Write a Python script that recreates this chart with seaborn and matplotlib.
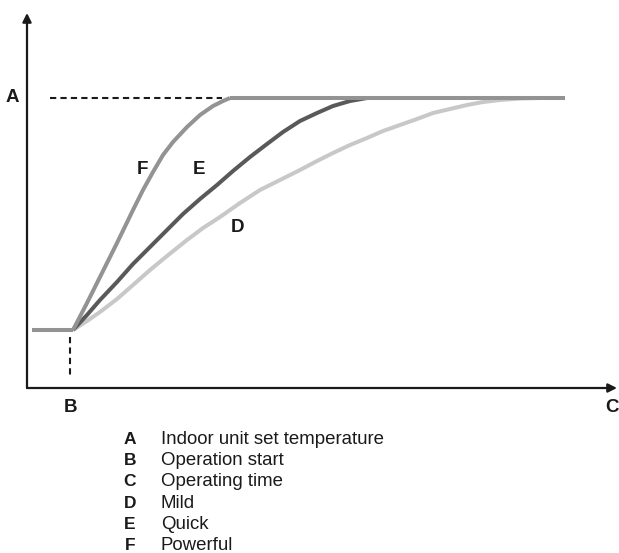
import numpy as np
import pandas as pd
import matplotlib
matplotlib.use("Agg")
import matplotlib.pyplot as plt
import seaborn as sns

# -------------------------------
# Curve data (time, temperature)
# -------------------------------

temp_set = 290

base_t = [5, 46]
base_temp = [58, 58]

powerful_t = [46, 60, 73, 90, 106, 116, 126, 136, 146, 160, 173, 186, 196, 203]
powerful_temp = [58, 85, 111, 145, 178, 198, 216, 233, 246, 261, 273, 282, 287, 290]

quick_t = [46, 60, 73, 90, 106, 123, 140, 156, 173, 190, 206, 223, 240, 256, 273,
           290, 306, 323, 340]
quick_temp = [58, 73, 88, 106, 124, 141, 158, 174, 189, 203, 217, 231, 244, 256, 267,
              275, 282, 287, 290]

mild_t = [46, 60, 73, 90, 106, 123, 140, 160, 176, 193, 213, 233, 253, 273, 290, 306,
          323, 340, 356, 373, 390, 406, 423, 440, 456, 473, 493, 513]
mild_temp = [58, 67, 76, 89, 103, 118, 132, 148, 160, 171, 185, 198, 208, 218, 227, 235,
             243, 250, 257, 263, 269, 275, 279, 283, 286, 288, 289.5, 290]

top_t = [203, 538]
top_temp = [290, 290]

legend_keys = ["A", "B", "C", "D", "E", "F"]
legend_text = ["Indoor unit set temperature", "Operation start", "Operating time",
               "Mild", "Quick", "Powerful"]

# -------------------------------
# Figure
# -------------------------------

sns.set_theme(style="white")
plt.rcParams['font.family'] = ['Liberation Sans', 'DejaVu Sans']

W, H = 619, 553
fig = plt.figure(figsize=(W / 100, H / 100), dpi=100)
ax = fig.add_axes([27 / W, (H - 388) / H, 590 / W, 375 / H])
ax.set_xlim(0, 590)
ax.set_ylim(0, 375)
ax.axis("off")

c_pow = "#939393"
c_quick = "#595959"
c_mild = "#c8c8c8"
lw = 2.9

sns.lineplot(x=mild_t, y=mild_temp, sort=False, color=c_mild, lw=lw, ax=ax)
sns.lineplot(x=quick_t, y=quick_temp, sort=False, color=c_quick, lw=lw, ax=ax)
sns.lineplot(x=powerful_t, y=powerful_temp, sort=False, color=c_pow, lw=lw, ax=ax)
sns.lineplot(x=base_t, y=base_temp, sort=False, color=c_pow, lw=lw, ax=ax)
sns.lineplot(x=top_t, y=top_temp, sort=False, color=c_pow, lw=lw, ax=ax)
for line in ax.lines:
    line.set_solid_capstyle("butt")
    line.set_solid_joinstyle("round")

# dashed guides
ax.plot([23, 195], [temp_set, temp_set], color="#1a1a1a", lw=1.5, ls=(0, (3, 2)))
ax.plot([43, 43], [51, 13], color="#1a1a1a", lw=1.5, ls=(0, (3, 2)))

# axis arrows
arrow = dict(arrowstyle="-|>", lw=1.6, color="#1a1a1a", mutation_scale=13,
             shrinkA=0, shrinkB=0)
ax.annotate("", xy=(1, 0), xytext=(0, 0), xycoords="axes fraction",
            textcoords="axes fraction", arrowprops=arrow, annotation_clip=False)
ax.annotate("", xy=(0, 1), xytext=(0, 0), xycoords="axes fraction",
            textcoords="axes fraction", arrowprops=arrow, annotation_clip=False)

# letters
lab = dict(fontsize=13.5, fontweight="bold", color="#1a1a1a", ha="center", va="center",
           clip_on=False)
ax.text(-15, temp_set, "A", **lab)
ax.text(43, -20, "B", **lab)
ax.text(585, -20, "C", **lab)
ax.text(115, 219, "F", **lab)
ax.text(172, 219, "E", **lab)
ax.text(210, 160, "D", **lab)

# key below the chart
for i, (k, txt) in enumerate(zip(legend_keys, legend_text)):
    y = 1 - (439 + i * 21.4) / H
    fig.text(130 / W, y, k, fontsize=12.5, fontweight="bold", color="#1a1a1a",
             ha="center", va="center")
    fig.text(161 / W, y, txt, fontsize=13.4, color="#1a1a1a", ha="left", va="center")

fig.savefig("out.png", dpi=100)
